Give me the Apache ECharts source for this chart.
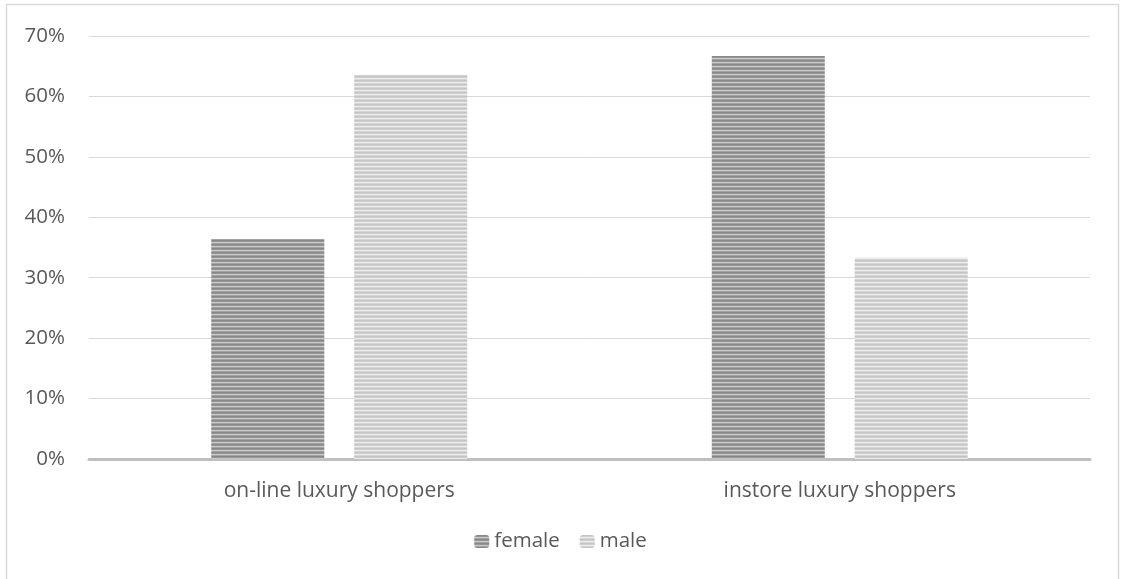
<!DOCTYPE html>
<html>
<head>
<meta charset="utf-8">
<script src="https://cdn.jsdelivr.net/npm/echarts@6/dist/echarts.min.js"></script>
<style>
  html, body { margin: 0; padding: 0; background: #ffffff; }
  #chart { width: 1121px; height: 579px; }
</style>
</head>
<body>
<div id="chart"></div>
<script>
// Shopper groups on the category axis
const categories = ['on-line luxury shoppers', 'instore luxury shoppers'];
// Share of each group by gender, in percent
const femaleValues = [36.4, 66.7];
const maleValues = [63.6, 33.3];
// Value axis ticks
const yMax = 70;
const yStep = 10;

// Horizontal-stripe fill, drawn once into a small tile that repeats
function stripeTile(rows) {
  const c = document.createElement('canvas');
  c.width = 4;
  c.height = rows.length;
  const g = c.getContext('2d');
  rows.forEach((col, i) => {
    g.fillStyle = col;
    g.fillRect(0, i, 4, 1);
  });
  return { image: c, repeat: 'repeat' };
}

const femaleFill = stripeTile(['#878787', '#969696', '#c8c8c8', '#a4a4a4']);
const maleFill = stripeTile(['#c4c4c4', '#cfcfcf', '#ececec', '#d6d6d6']);

const font = '"Open Sans", "Noto Sans", sans-serif';
const chart = echarts.init(document.getElementById('chart'));

chart.setOption({
  animation: false,
  backgroundColor: '#ffffff',
  textStyle: { fontFamily: font },
  graphic: [{
    type: 'rect',
    shape: { x: 6.5, y: 4.5, width: 1112, height: 580 },
    style: { fill: 'none', stroke: '#d9d9d9', lineWidth: 1.5 },
    silent: true
  }],
  grid: { left: 89, right: 31, top: 36, bottom: 120 },
  legend: {
    bottom: 22,
    left: 'center',
    itemWidth: 15,
    itemHeight: 13,
    itemGap: 20,
    textStyle: { fontFamily: font, fontSize: 20.5, color: '#595959' },
    data: ['female', 'male']
  },
  xAxis: {
    type: 'category',
    data: categories,
    axisTick: { show: false },
    axisLine: { lineStyle: { color: '#bfbfbf', width: 3 } },
    axisLabel: { color: '#595959', fontSize: 21, fontFamily: font, margin: 22 }
  },
  yAxis: {
    type: 'value',
    min: 0,
    max: yMax,
    interval: yStep,
    axisLine: { show: false },
    axisTick: { show: false },
    splitLine: { lineStyle: { color: '#d9d9d9', width: 1 } },
    axisLabel: { formatter: '{value}%', color: '#595959', fontSize: 20.5, fontFamily: font, margin: 24 }
  },
  series: [
    {
      name: 'female',
      type: 'bar',
      data: femaleValues,
      barWidth: 113,
      barGap: '26.5%',
      itemStyle: { color: femaleFill }
    },
    {
      name: 'male',
      type: 'bar',
      data: maleValues,
      barWidth: 113,
      itemStyle: { color: maleFill }
    }
  ]
});
</script>
</body>
</html>
